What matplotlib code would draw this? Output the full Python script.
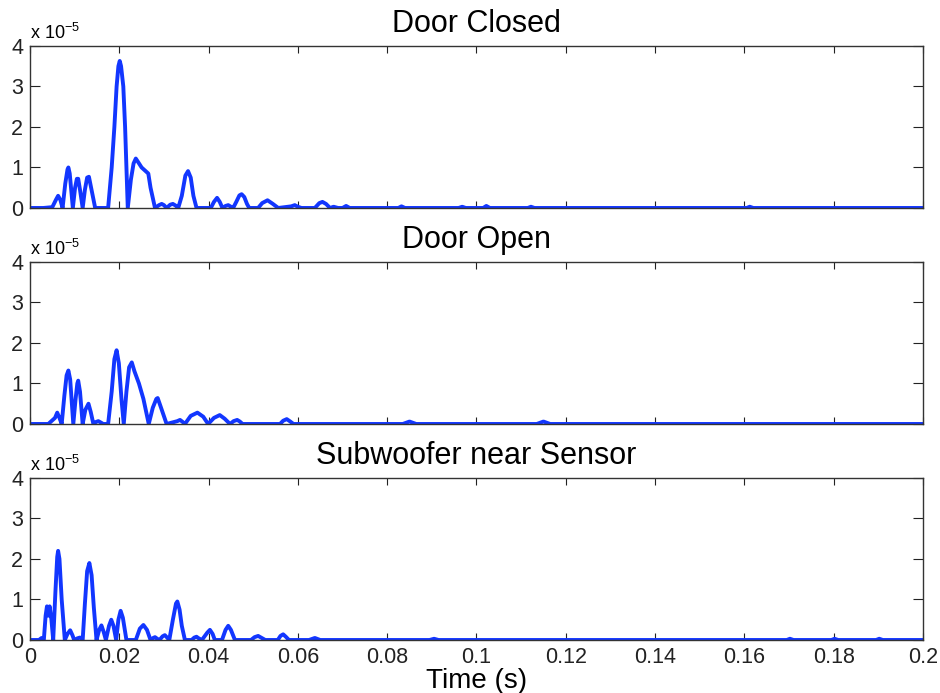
import matplotlib.pyplot as plt
from matplotlib.ticker import MultipleLocator

plt.rcParams['font.family'] = ['Liberation Sans', 'DejaVu Sans']
plt.rcParams['mathtext.fontset'] = 'custom'
plt.rcParams['mathtext.rm'] = 'Liberation Sans'

# time (s) and amplitude (x 1e-5) of each response trace
t_closed = [0.0, 0.0030, 0.0050, 0.0058, 0.0063, 0.0068, 0.0073, 0.0079, 0.0084,
            0.0086, 0.0089, 0.0096, 0.0101, 0.0105, 0.0108, 0.0112, 0.0118, 0.0123,
            0.0128, 0.0132, 0.0136, 0.0146, 0.0175, 0.0183, 0.0189, 0.0194, 0.0198,
            0.0201, 0.0204, 0.0209, 0.0213, 0.0216, 0.0219, 0.0226, 0.0232, 0.0237,
            0.0243, 0.0250, 0.0258, 0.0265, 0.0270, 0.0280, 0.0289, 0.0295, 0.0300,
            0.0306, 0.0314, 0.0320, 0.0326, 0.0332, 0.0340, 0.0348, 0.0354, 0.0360,
            0.0366, 0.0373, 0.0405, 0.0412, 0.0419, 0.0425, 0.0431, 0.0438, 0.0444,
            0.0450, 0.0455, 0.0462, 0.0469, 0.0474, 0.0480, 0.0486, 0.0491, 0.0511,
            0.0520, 0.0532, 0.0544, 0.0556, 0.0585, 0.0593, 0.0600, 0.0608, 0.0638,
            0.0648, 0.0655, 0.0663, 0.0672, 0.0680, 0.0690, 0.0700, 0.0708, 0.0716,
            0.0825, 0.0832, 0.0840, 0.0960, 0.0968, 0.0976, 0.1015, 0.1022, 0.1030,
            0.1115, 0.1122, 0.1130, 0.1605, 0.1612, 0.1620, 0.2000]
v_closed = [0.0, 0.0, 0.02, 0.20, 0.30, 0.20, 0.0, 0.60, 0.95,
            1.00, 0.85, 0.0, 0.50, 0.72, 0.72, 0.45, 0.0, 0.45,
            0.75, 0.77, 0.55, 0.0, 0.0, 1.00, 2.00, 3.00, 3.50,
            3.63, 3.50, 3.00, 2.00, 1.00, 0.0, 0.70, 1.10, 1.22,
            1.12, 1.00, 0.92, 0.85, 0.50, 0.0, 0.07, 0.10, 0.07,
            0.0, 0.08, 0.10, 0.06, 0.0, 0.30, 0.80, 0.91, 0.75,
            0.30, 0.0, 0.0, 0.15, 0.25, 0.15, 0.0, 0.05, 0.07,
            0.03, 0.0, 0.15, 0.31, 0.34, 0.27, 0.10, 0.0, 0.0,
            0.12, 0.19, 0.10, 0.0, 0.04, 0.07, 0.03, 0.0, 0.0,
            0.12, 0.15, 0.10, 0.0, 0.03, 0.0, 0.0, 0.05, 0.0,
            0.0, 0.04, 0.0, 0.0, 0.03, 0.0, 0.0, 0.05, 0.0,
            0.0, 0.03, 0.0, 0.0, 0.03, 0.0, 0.0]

t_open = [0.0, 0.0041, 0.0056, 0.0061, 0.0066, 0.0071, 0.0077, 0.0082, 0.0086,
          0.0090, 0.0097, 0.0102, 0.0106, 0.0108, 0.0112, 0.0118, 0.0124, 0.0131,
          0.0136, 0.0142, 0.0148, 0.0153, 0.0158, 0.0164, 0.0175, 0.0183, 0.0189,
          0.0194, 0.0199, 0.0205, 0.0210, 0.0216, 0.0222, 0.0228, 0.0234, 0.0244,
          0.0254, 0.0266, 0.0275, 0.0283, 0.0286, 0.0292, 0.0306, 0.0330, 0.0336,
          0.0342, 0.0347, 0.0360, 0.0375, 0.0388, 0.0399, 0.0412, 0.0425, 0.0436,
          0.0448, 0.0456, 0.0464, 0.0470, 0.0476, 0.0560, 0.0567, 0.0575, 0.0583,
          0.0590, 0.0835, 0.0850, 0.0865, 0.1135, 0.1150, 0.1165, 0.2000]
v_open = [0.0, 0.0, 0.15, 0.28, 0.15, 0.0, 0.70, 1.20, 1.32,
          1.10, 0.0, 0.60, 1.00, 1.07, 0.80, 0.0, 0.35, 0.50,
          0.30, 0.0, 0.05, 0.07, 0.04, 0.0, 0.0, 0.80, 1.60,
          1.82, 1.50, 0.60, 0.0, 0.80, 1.40, 1.52, 1.30, 1.00,
          0.62, 0.0, 0.40, 0.62, 0.64, 0.45, 0.0, 0.07, 0.10,
          0.05, 0.0, 0.20, 0.28, 0.18, 0.0, 0.15, 0.22, 0.13,
          0.0, 0.07, 0.10, 0.06, 0.0, 0.0, 0.08, 0.12, 0.06,
          0.0, 0.0, 0.06, 0.0, 0.0, 0.06, 0.0, 0.0]

t_sub = [0.0, 0.0020, 0.0026, 0.0031, 0.0035, 0.0038, 0.0041, 0.0044, 0.0048,
         0.0052, 0.0057, 0.0061, 0.0063, 0.0066, 0.0071, 0.0078, 0.0084, 0.0090,
         0.0095, 0.0099, 0.0106, 0.0112, 0.0118, 0.0123, 0.0128, 0.0133, 0.0138,
         0.0143, 0.0149, 0.0155, 0.0160, 0.0165, 0.0170, 0.0177, 0.0182, 0.0187,
         0.0193, 0.0198, 0.0203, 0.0208, 0.0216, 0.0237, 0.0246, 0.0254, 0.0262,
         0.0270, 0.0276, 0.0280, 0.0285, 0.0290, 0.0297, 0.0302, 0.0307, 0.0312,
         0.0320, 0.0327, 0.0330, 0.0335, 0.0340, 0.0347, 0.0362, 0.0368, 0.0373,
         0.0378, 0.0385, 0.0397, 0.0403, 0.0409, 0.0414, 0.0430, 0.0438, 0.0444,
         0.0450, 0.0459, 0.0495, 0.0503, 0.0511, 0.0519, 0.0527, 0.0555, 0.0561,
         0.0567, 0.0573, 0.0580, 0.0625, 0.0638, 0.0650, 0.0895, 0.0905, 0.0915,
         0.1695, 0.1702, 0.1710, 0.1795, 0.1802, 0.1810, 0.1895, 0.1902, 0.1910,
         0.2000]
v_sub = [0.0, 0.0, 0.05, 0.0, 0.60, 0.83, 0.60, 0.83, 0.50,
         0.0, 1.20, 2.05, 2.20, 2.00, 1.00, 0.0, 0.15, 0.24,
         0.12, 0.0, 0.04, 0.06, 0.0, 0.90, 1.70, 1.90, 1.60,
         0.80, 0.0, 0.25, 0.36, 0.20, 0.0, 0.35, 0.50, 0.35,
         0.0, 0.50, 0.72, 0.55, 0.0, 0.0, 0.28, 0.37, 0.25,
         0.0, 0.05, 0.07, 0.03, 0.0, 0.09, 0.12, 0.06, 0.0,
         0.50, 0.90, 0.95, 0.75, 0.35, 0.0, 0.0, 0.06, 0.08,
         0.04, 0.0, 0.18, 0.25, 0.15, 0.0, 0.0, 0.25, 0.35,
         0.25, 0.0, 0.0, 0.07, 0.10, 0.05, 0.0, 0.0, 0.10,
         0.14, 0.08, 0.0, 0.0, 0.05, 0.0, 0.0, 0.03, 0.0,
         0.0, 0.03, 0.0, 0.0, 0.03, 0.0, 0.0, 0.03, 0.0,
         0.0]

titles = ['Door Closed', 'Door Open', 'Subwoofer near Sensor']
traces = [(t_closed, v_closed), (t_open, v_open), (t_sub, v_sub)]
x_ticks = [0, 0.02, 0.04, 0.06, 0.08, 0.1, 0.12, 0.14, 0.16, 0.18, 0.2]
x_tick_labels = ['0', '0.02', '0.04', '0.06', '0.08', '0.1', '0.12', '0.14',
                 '0.16', '0.18', '0.2']

fig = plt.figure(figsize=(9.4, 6.93), dpi=100)
bottoms = [0.6999, 0.3882, 0.0765]
line_color = '#1236ff'

for i, (title, (t, v), b) in enumerate(zip(titles, traces, bottoms)):
    ax = fig.add_axes([0.0319, b, 0.950, 0.2338])
    ax.plot(t, v, color=line_color, linewidth=2.8, solid_joinstyle='round')
    ax.set_xlim(0, 0.2)
    ax.set_ylim(0, 4)
    ax.set_xticks(x_ticks)
    ax.yaxis.set_major_locator(MultipleLocator(1))
    ax.tick_params(direction='in', top=True, right=True, labelsize=15.5,
                   colors='#222222')
    ax.tick_params(axis='x', length=5, pad=5)
    ax.tick_params(axis='y', length=7, pad=5)
    if i == 2:
        ax.set_xticklabels(x_tick_labels)
        ax.set_xlabel('Time (s)', fontsize=20, labelpad=0)
    else:
        ax.set_xticklabels([])
    for sp in ax.spines.values():
        sp.set_color('#333333')
        sp.set_linewidth(1.0)
    ax.set_title(title, fontsize=22, pad=10)
    ax.text(0, 1.043, r'x 10$^{-5}$', transform=ax.transAxes, fontsize=13,
            ha='left', va='baseline')

fig.savefig('out.png', dpi=100)
